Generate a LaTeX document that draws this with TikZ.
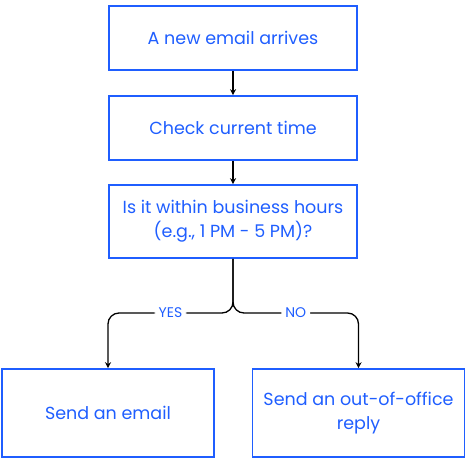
\documentclass[tikz,border=0pt]{standalone}
\usepackage{fontspec}
\setmainfont{Poppins}
\usetikzlibrary{positioning, arrows.meta}
\definecolor{flowblue}{HTML}{1F5EFF}
\tikzset{
	>={Stealth[length=6pt,width=6pt]}, % Puntas de flecha gruesas
	node distance=90pt, % Distancia entre cajas
	box/.style={draw=flowblue, line width=1.6pt, text=flowblue, align=center,
		minimum width=248pt, minimum height=64pt, font=\fontsize{17.5}{24}\selectfont}, % Cajas del diagrama
	flow/.style={->, line width=1.3pt, black}, % Conectores
	answer/.style={fill=white, text=flowblue, inner sep=4pt, font=\fontsize{14}{16}\selectfont} % Etiquetas SI / NO
}

\begin{document}
\begin{tikzpicture}
	\useasboundingbox (0,0) rectangle (470pt,-460pt);
	\node[box] (arrive) at (233pt,-38pt) {A new email arrives};
	\node[box, below of=arrive] (check) {Check current time};
	\node[box, below of=check, node distance=93.5pt, minimum height=73pt] (hours) {Is it within business hours\\(e.g., 1 PM - 5 PM)?};
	\node[box, minimum width=212pt, minimum height=88pt] (sendmail) at (108pt,-413pt) {Send an email};
	\node[box, minimum width=212pt, minimum height=88pt] (outoffice) at (358.5pt,-413pt) {Send an out-of-office\\reply};
	\coordinate (split) at (233pt,-313pt);
	\draw[flow] (arrive) -- (check);
	\draw[flow] (check) -- (hours);
	\draw[flow, rounded corners=11pt] (hours.south) -- (split) -| node[answer, pos=0.25] {YES} (sendmail.north);
	\draw[flow, rounded corners=11pt] (hours.south) -- (split) -| node[answer, pos=0.25] {NO} (outoffice.north);
\end{tikzpicture}
\end{document}
